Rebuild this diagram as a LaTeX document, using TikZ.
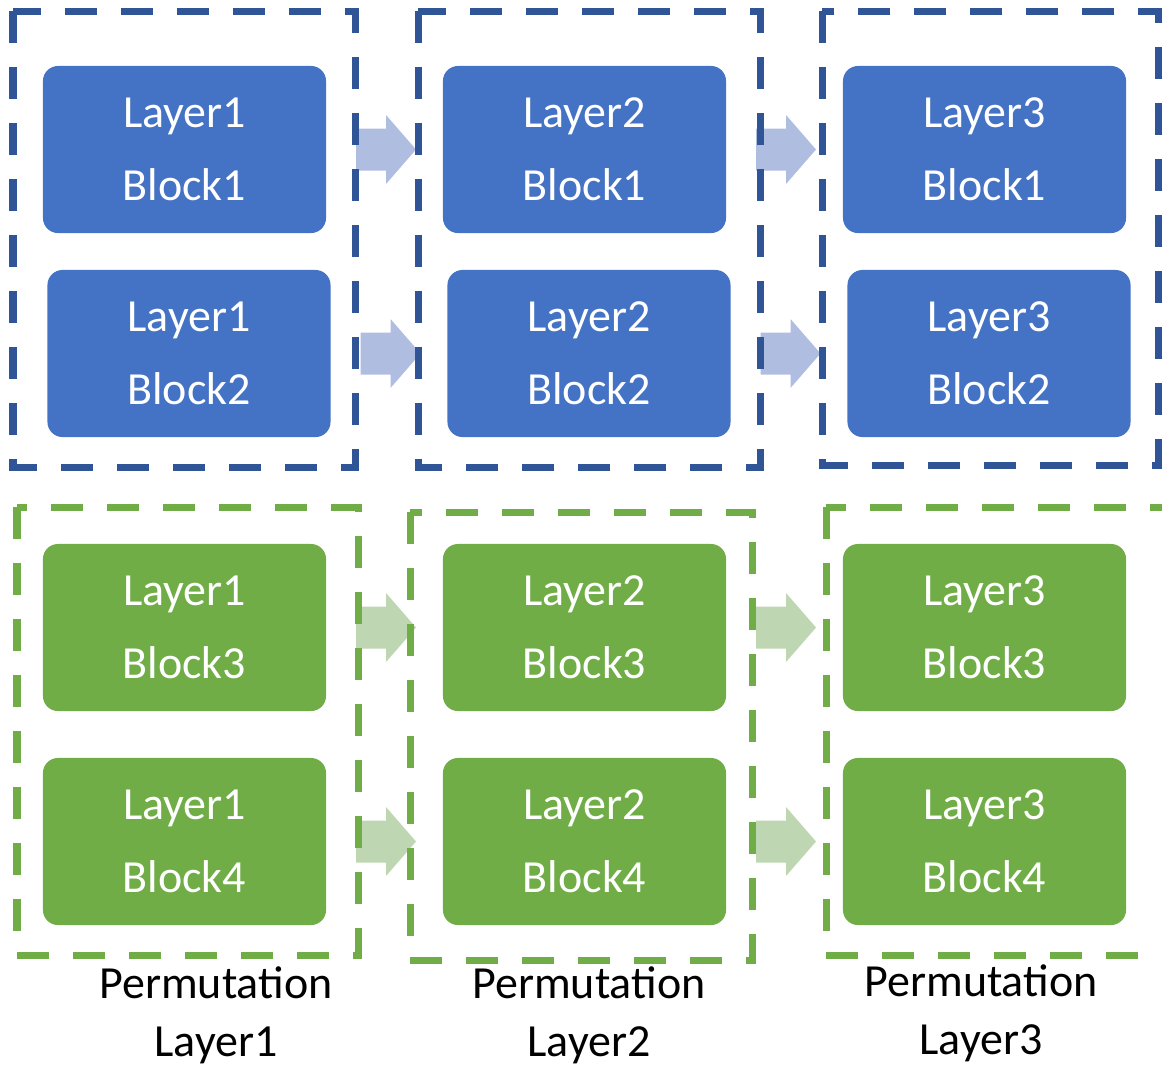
\documentclass[tikz,border=0pt]{standalone}
\usepackage{fontspec}
\setmainfont{Carlito}
\usetikzlibrary{calc}

\definecolor{blockblue}{HTML}{4472C4}
\definecolor{blockgreen}{HTML}{70AD47}
\definecolor{dashblue}{HTML}{2F5597}
\definecolor{dashgreen}{HTML}{70AD47}
\definecolor{arrowblue}{RGB}{175,189,224}
\definecolor{arrowgreen}{RGB}{190,214,178}

\begin{document}
\begin{tikzpicture}[x=0.025cm, y=-0.025cm
	, block/.style={ rounded corners=0.375cm
	               , minimum width=7.075cm
	               , minimum height=4.175cm
	               , inner sep=0
	               , align=center
	               , text=white
	               , font=\fontsize{32.7}{51.9}\selectfont
	               }
	, permbox/.style={ dash pattern=on 0.8cm off 0.6cm
	                 , line width=0.175cm
	                 }
	, caption/.style={ align=center
	                 , font=\fontsize{32.7}{41}\selectfont
	                 }
	]
	\useasboundingbox (0,0) rectangle (1162,1066);
	\clip (0,0) rectangle (1162,1066);
	
	% Blocks
	\foreach \l/\x in {1/0,2/400,3/800}{
		\foreach \b/\dx/\y/\c in {1/0/149.5/blockblue,2/4.5/353.5/blockblue,3/0/627.5/blockgreen,4/0/841.5/blockgreen}{
			\node (l\l b\b)
			      [ block
			      , fill=\c
			      ]
			      at (184.5+\x+\dx, \y)
			      {Layer\l\\Block\b};
		}
	}
	
	% Arrows between layers
	\foreach \b/\c in {1/arrowblue,2/arrowblue,3/arrowgreen,4/arrowgreen}{
		\foreach \l/\ll in {1/2,2/3}{
			\coordinate (mid\l\b) at ($(l\l b\b.east)!0.5!(l\ll b\b.west)$);
			\fill [\c]
			      (mid\l\b) ++(-28.5,-21) --
			    ++(30,0) --
			    ++(0,-13.5) --
			    ++(30,34.5) --
			    ++(-30,34.5) --
			    ++(0,-13.5) --
			    ++(-30,0) --
			      cycle;
		}
	}
	
	% Permutation groups
	\draw [permbox, dashblue] (13,11) rectangle (355,467);
	\draw [permbox, dashblue] (418,11) rectangle (760,467);
	\draw [permbox, dashblue] (822,11) rectangle (1158,465);
	\draw [permbox, dashgreen] (17,507) rectangle (358,955);
	\draw [permbox, dashgreen] (410,512) rectangle (752,960);
	\draw [permbox, dashgreen] (826,507) rectangle (1200,955);
	
	% Captions
	\node (perm1) [caption] at (216,1015) {Permutation\\Layer1};
	\node (perm2) [caption] at (589,1015) {Permutation\\Layer2};
	\node (perm3) [caption] at (981,1013) {Permutation\\Layer3};
\end{tikzpicture}
\end{document}
